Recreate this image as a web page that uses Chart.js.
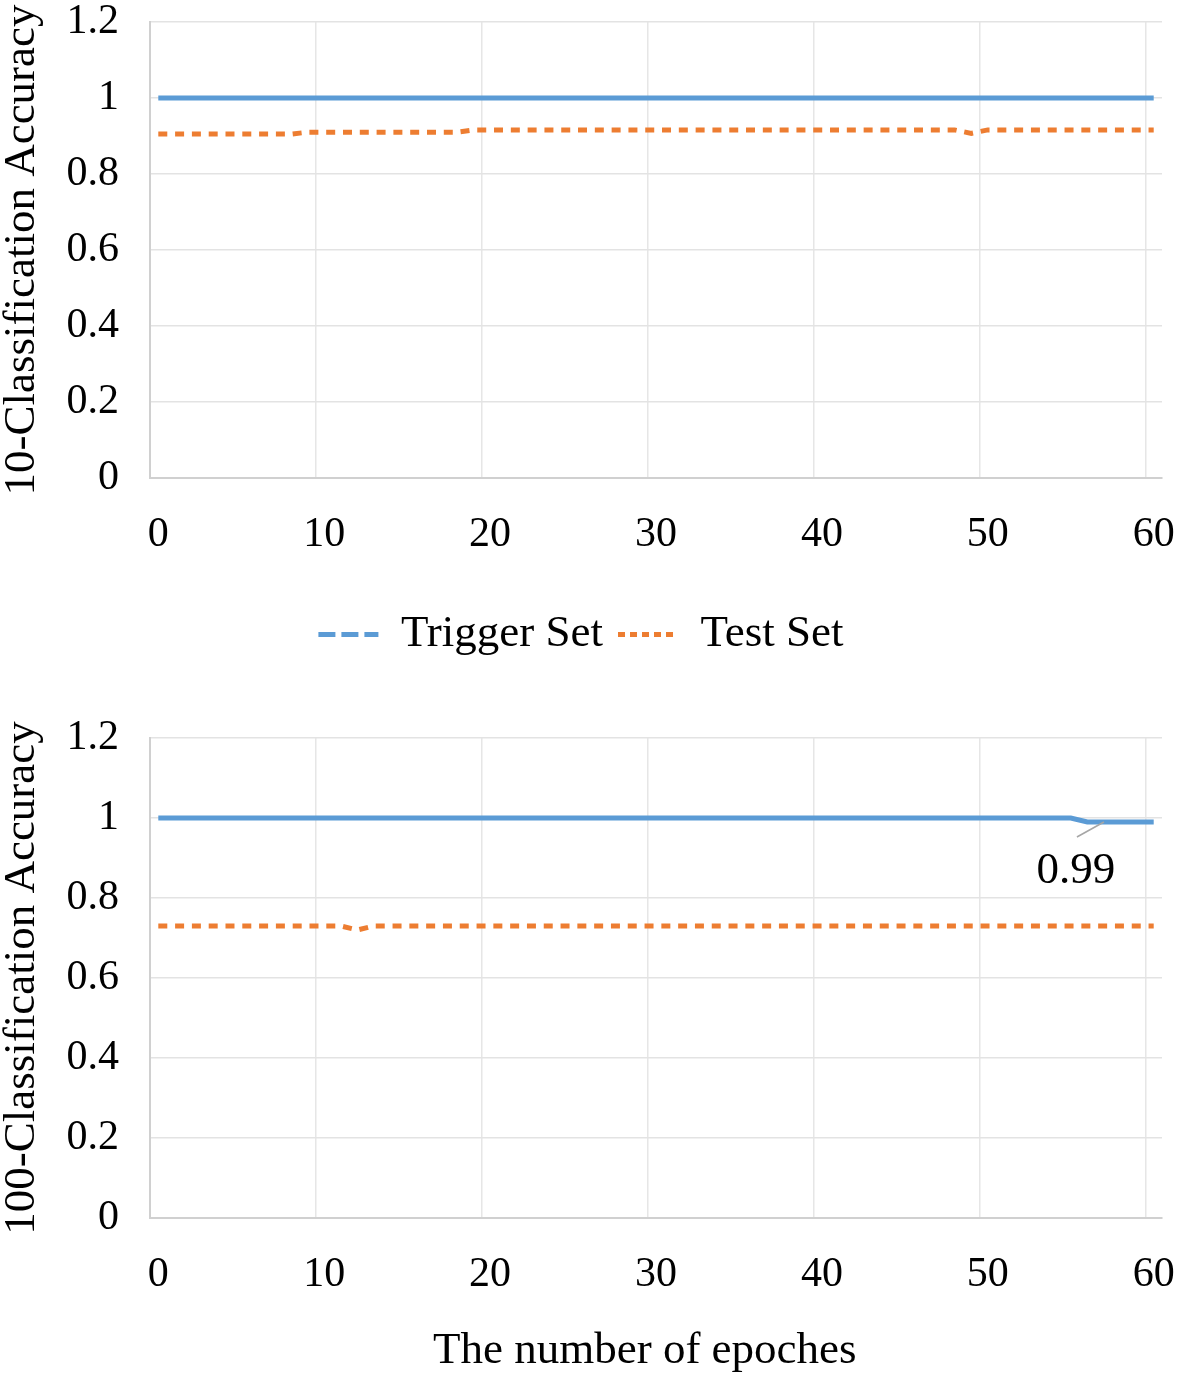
<!DOCTYPE html>
<html><head><meta charset="utf-8">
<script src="https://cdn.jsdelivr.net/npm/chart.js@4.4.1/dist/chart.umd.min.js"></script>
<style>
html,body{margin:0;padding:0;background:#fff;}
#wrap{position:relative;width:1181px;height:1379px;overflow:hidden;}
#c1{position:absolute;left:0;top:0;}
#c2{position:absolute;left:0;top:680px;}
</style></head><body>
<div id="wrap"><canvas id="c1" width="1181" height="680"></canvas><canvas id="c2" width="1181" height="699"></canvas></div>
<script>
const epochs = [0,1,2,3,4,5,6,7,8,9,
  10,11,12,13,14,15,16,17,18,19,
  20,21,22,23,24,25,26,27,28,29,
  30,31,32,33,34,35,36,37,38,39,
  40,41,42,43,44,45,46,47,48,49,
  50,51,52,53,54,55,56,57,58,59,
  60];
const trigger10 = [1,1,1,1,1,1,1,1,1,1,
  1,1,1,1,1,1,1,1,1,1,
  1,1,1,1,1,1,1,1,1,1,
  1,1,1,1,1,1,1,1,1,1,
  1,1,1,1,1,1,1,1,1,1,
  1,1,1,1,1,1,1,1,1,1,
  1];
const test10 = [0.905,0.905,0.905,0.905,0.905,0.905,0.905,0.905,0.905,0.91,
  0.91,0.91,0.91,0.91,0.91,0.91,0.91,0.91,0.91,0.916,
  0.916,0.916,0.916,0.916,0.916,0.916,0.916,0.916,0.916,0.916,
  0.916,0.916,0.916,0.916,0.916,0.916,0.916,0.916,0.916,0.916,
  0.916,0.916,0.916,0.916,0.916,0.916,0.916,0.916,0.916,0.907,
  0.916,0.916,0.916,0.916,0.916,0.916,0.916,0.916,0.916,0.916,
  0.916];
const trigger100 = [1,1,1,1,1,1,1,1,1,1,
  1,1,1,1,1,1,1,1,1,1,
  1,1,1,1,1,1,1,1,1,1,
  1,1,1,1,1,1,1,1,1,1,
  1,1,1,1,1,1,1,1,1,1,
  1,1,1,1,1,1,0.99,0.99,0.99,0.99,
  0.99];
const test100 = [0.73,0.73,0.73,0.73,0.73,0.73,0.73,0.73,0.73,0.73,
  0.73,0.73,0.72,0.73,0.73,0.73,0.73,0.73,0.73,0.73,
  0.73,0.73,0.73,0.73,0.73,0.73,0.73,0.73,0.73,0.73,
  0.73,0.73,0.73,0.73,0.73,0.73,0.73,0.73,0.73,0.73,
  0.73,0.73,0.73,0.73,0.73,0.73,0.73,0.73,0.73,0.73,
  0.73,0.73,0.73,0.73,0.73,0.73,0.73,0.73,0.73,0.73,
  0.73];
const xTickLabels = ['0','10','20','30','40','50','60'];
const yTickLabels = ['0','0.2','0.4','0.6','0.8','1','1.2'];
const seriesNames = ['Trigger Set','Test Set'];
const yTitle10 = '10-Classification Accuracy';
const yTitle100 = '100-Classification Accuracy';
const xTitle = 'The number of epoches\u00a0\u00a0';
const annotIndex = 57;
const annotText = '0.99';

const FONT = "'Liberation Serif', 'Times New Roman', serif";
Chart.defaults.font.family = FONT;
Chart.defaults.color = '#000';

const BLUE = '#5B9BD5', ORANGE = '#ED7D31';

function datasets(tr, te){
  return [
    {label: seriesNames[0], data: tr, borderColor: BLUE, backgroundColor: BLUE, borderWidth: 5, pointRadius: 0, tension: 0, borderCapStyle:'butt'},
    {label: seriesNames[1], data: te, borderColor: ORANGE, backgroundColor: ORANGE, borderWidth: 5, borderDash: [9, 7.8], pointRadius: 0, tension: 0, borderCapStyle:'butt'}
  ];
}

function scales(yTitle, xH, withXTitle){
  return {
    x: {
      type: 'category', offset: true,
      grid: {offset: true, drawTicks: false, lineWidth: 1.5,
        color: c => (c.index !== undefined && c.index % 10 === 0) ? '#e6e6e6' : 'rgba(0,0,0,0)'},
      border: {display: true, color: '#d0d0d0', width: 2},
      ticks: {autoSkip: false, maxRotation: 0, minRotation: 0, padding: 36, color: '#000',
        font: {size: 42, lineHeight: 1},
        callback: function(v, i){ const l = String(epochs[i]); return xTickLabels.includes(l) ? l : ''; }},
      title: {display: withXTitle, text: xTitle, color: '#000', font: {size: 45, lineHeight: 1}, padding: {top: 0, bottom: 5}},
      afterFit: s => { s.height = xH; s.paddingLeft = 0; s.paddingRight = 0; }
    },
    y: {
      min: 0, max: 1.2,
      grid: {drawTicks: false, color: '#e3e3e3', lineWidth: 1.5},
      border: {display: true, color: '#d0d0d0', width: 2},
      ticks: {stepSize: 0.2, padding: 31, color: '#000', font: {size: 42, lineHeight: 1},
        callback: function(v, i){ return yTickLabels[i]; }},
      title: {display: true, text: yTitle, color: '#000', font: {size: 45, lineHeight: 1}, padding: {top: 0, bottom: 0}},
      afterFit: s => { s.width = 150; s.paddingTop = 0; s.paddingBottom = 0; }
    }
  };
}

new Chart(document.getElementById('c1'), {
  type: 'line',
  data: {labels: epochs.map(String), datasets: datasets(trigger10, test10)},
  options: {
    responsive: false, animation: false,
    layout: {padding: {top: 22, right: 19, left: 0, bottom: 13}},
    scales: scales(yTitle10, 119, false),
    plugins: {
      tooltip: {enabled: false},
      legend: {
        display: true, position: 'bottom',
        labels: {
          usePointStyle: true, pointStyleWidth: 60, padding: 15, color: '#000',
          font: {size: 45},
          generateLabels: chart => {
            const items = Chart.defaults.plugins.legend.labels.generateLabels(chart);
            items[0].lineDash = [17, 6];
            items[1].lineDash = [7, 5];
            items.forEach(it => { it.pointStyle = 'line'; it.lineWidth = 5; it.lineCap = 'butt'; });
            return items;
          }
        }
      }
    }
  }
});

const annotPlugin = {
  id: 'annot',
  afterDatasetsDraw(chart){
    const pt = chart.getDatasetMeta(0).data[annotIndex];
    const ctx = chart.ctx;
    ctx.save();
    ctx.strokeStyle = '#a6a6a6'; ctx.lineWidth = 1.5;
    ctx.beginPath(); ctx.moveTo(pt.x, pt.y); ctx.lineTo(pt.x - 27, pt.y + 15); ctx.stroke();
    ctx.font = "45px " + FONT; ctx.fillStyle = '#000';
    ctx.textAlign = 'center'; ctx.textBaseline = 'middle';
    ctx.fillText(annotText, pt.x - 28, pt.y + 49);
    ctx.restore();
  }
};

new Chart(document.getElementById('c2'), {
  type: 'line',
  data: {labels: epochs.map(String), datasets: datasets(trigger100, test100)},
  options: {
    responsive: false, animation: false,
    layout: {padding: {top: 58, right: 19, left: 0, bottom: 0}},
    scales: scales(yTitle100, 161, true),
    plugins: {tooltip: {enabled: false}, legend: {display: false}}
  },
  plugins: [annotPlugin]
});
</script>
</body></html>
